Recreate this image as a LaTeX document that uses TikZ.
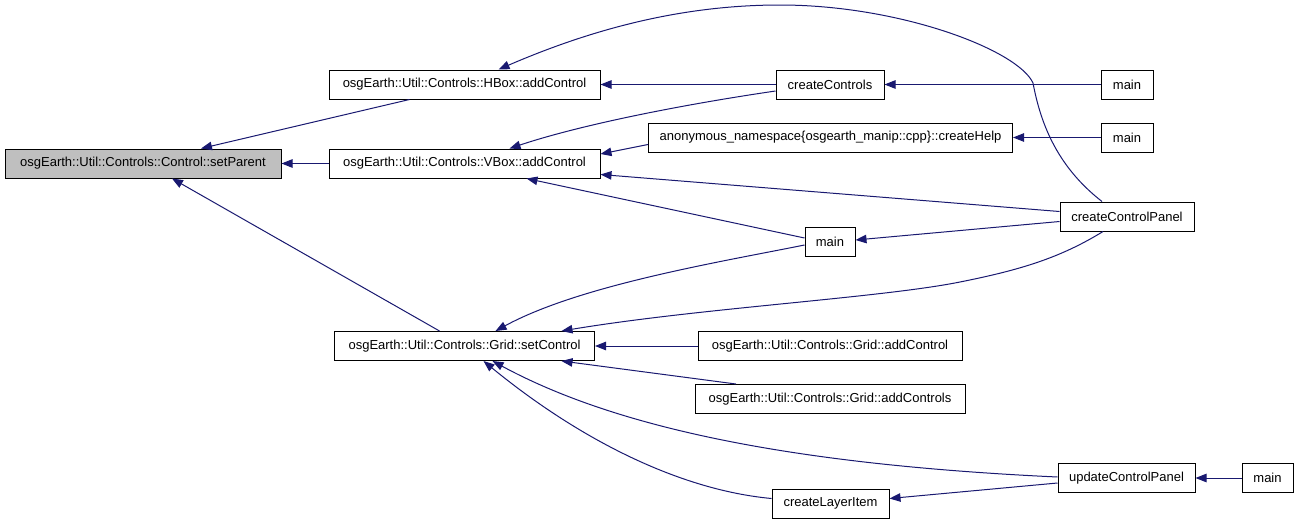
\documentclass[tikz,border=0pt]{standalone}
\usepackage{fontspec}
\setmainfont{Liberation Sans}
\usetikzlibrary{arrows.meta}
\definecolor{edgeblue}{HTML}{191970}
\definecolor{hilite}{HTML}{BFBFBF}
\begin{document}
\begin{tikzpicture}[x=1pt,y=-1pt,
  fn/.style={draw=black,line width=1pt,minimum height=29pt,inner sep=0pt,
    font=\fontsize{13}{15}\selectfont,fill=white},
  call/.style={draw=edgeblue,line width=1pt,-{Triangle[length=11pt,width=8.5pt]},fill=none},
]
\useasboundingbox (0,0) rectangle (1299,523);
\node[fn,fill=hilite,minimum width=276pt] (sp) at (143,163.5) {osgEarth::Util::Controls::Control::setParent};
\node[fn,minimum width=271pt] (hbox) at (464.5,84.5) {osgEarth::Util::Controls::HBox::addControl};
\node[fn,minimum width=271pt] (vbox) at (464.5,163.5) {osgEarth::Util::Controls::VBox::addControl};
\node[fn,minimum width=260pt] (grid) at (464.5,346) {osgEarth::Util::Controls::Grid::setControl};
\node[fn,minimum width=108pt] (cc) at (830,84.5) {createControls};
\node[fn,minimum width=52pt] (m1) at (1127,84.5) {main};
\node[fn,minimum width=364pt] (help) at (830.5,137.5) {anonymous\_namespace\{osgearth\_manip::cpp\}::createHelp};
\node[fn,minimum width=52pt] (m2) at (1127,137.5) {main};
\node[fn,minimum width=134pt] (cp) at (1127,216.5) {createControlPanel};
\node[fn,minimum width=50pt] (mm) at (830,242) {main};
\node[fn,minimum width=264pt] (gadd) at (830,346) {osgEarth::Util::Controls::Grid::addControl};
\node[fn,minimum width=270pt] (gadds) at (830,399) {osgEarth::Util::Controls::Grid::addControls};
\node[fn,minimum width=137pt] (up) at (1126.5,478) {updateControlPanel};
\node[fn,minimum width=51pt] (m3) at (1267.5,478) {main};
\node[fn,minimum width=117pt] (li) at (830.5,503.5) {createLayerItem};

\draw[call] ([xshift=-55pt]hbox.south) -- ([xshift=58pt]sp.north);
\draw[call] (vbox.west) -- (sp.east);
\draw[call] ([xshift=-25pt]grid.north) -- ([xshift=29pt]sp.south);
\draw[call] (cc.west) -- (hbox.east);
\draw[call] ([xshift=-25pt]cp.north) .. controls (1055,165) and (1040,120) .. (1033,83)
  .. controls (1018,50) and (900,5) .. (780,5)
  .. controls (680,5) and (590,30) .. ([xshift=34pt]hbox.north);
\draw[call] (m1.west) -- (cc.east);
\draw[call] (m2.west) -- (help.east);
\draw[call] ([yshift=-6.5pt]cc.west) .. controls (680,105) and (580,125) .. ([xshift=45pt]vbox.north);
\draw[call] ([yshift=-7pt]help.west) -- ([yshift=9.5pt]vbox.east);
\draw[call] ([yshift=5pt]cp.west) -- ([yshift=-11pt]vbox.east);
\draw[call] ([yshift=4pt]mm.west) -- ([xshift=62pt]vbox.south);
\draw[call] ([yshift=-5pt]cp.west) -- ([yshift=2pt]mm.east);
\draw[call] ([yshift=-3pt]mm.west) .. controls (720,262) and (580,285) .. ([xshift=31pt]grid.north);
\draw[call] ([xshift=-24pt]cp.south) .. controls (1060,258) and (1020,270) .. (960,282)
  .. controls (880,298) and (700,308) .. ([xshift=97pt]grid.north);
\draw[call] (gadd.west) -- (grid.east);
\draw[call] ([xshift=-94pt]gadds.north) -- ([xshift=97pt]grid.south);
\draw[call] ([yshift=1pt]up.west) .. controls (800,465) and (620,430) .. ([xshift=28pt]grid.south);
\draw[call] ([yshift=5pt]li.west) .. controls (680,490) and (580,440) .. ([xshift=19pt]grid.south);
\draw[call] ([yshift=-5pt]up.west) -- ([yshift=5pt]li.east);
\draw[call] (m3.west) -- (up.east);
\end{tikzpicture}
\end{document}
